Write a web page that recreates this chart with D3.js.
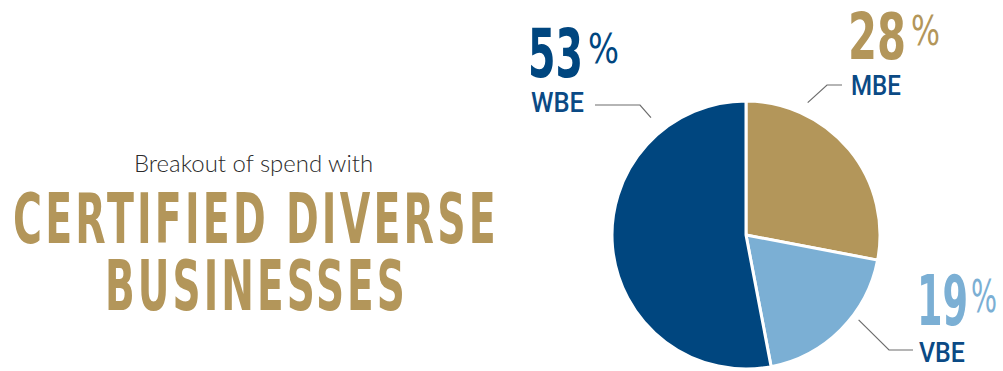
<!DOCTYPE html>
<html>
<head>
<meta charset="utf-8">
<script src="https://cdn.jsdelivr.net/npm/d3@7"></script>
<style>
  html, body { margin: 0; padding: 0; background: #fff; }
  svg { display: block; }
</style>
</head>
<body>
<div id="chart"></div>
<script>
// Spend breakout pie – certified diverse businesses

const categories = ['MBE', 'VBE', 'WBE'];
const values = [28, 19, 53];
const sliceColors = ['#b3965a', '#7bafd4', '#00467f'];

const width = 1003, height = 371;
const labelBlue = '#0b4a85';
const gold = '#b3965a';

const svg = d3.select('#chart').append('svg')
    .attr('width', width)
    .attr('height', height);

// Fit a text element: cap height from top to baseline, stretched to a target width
function fitText(g, str, opts) {
    const capRatio = opts.capRatio || 0.729;
    const size = (opts.baseline - opts.top) / capRatio;
    const t = g.append('text')
        .attr('font-family', opts.family)
        .attr('font-weight', opts.weight || 'normal')
        .attr('font-size', size + 'px')
        .attr('letter-spacing', (opts.spacing || 0) + 'px')
        .attr('fill', opts.color)
        .text(str);
    const box = t.node().getBBox();
    const sx = opts.width / box.width;
    t.attr('transform', `translate(${opts.x - box.x * sx},${opts.baseline}) scale(${sx},1)`);
    return t;
}

const condensed = '"Liberation Sans Narrow", "DejaVu Sans Condensed", sans-serif';

// Title block
const title = svg.append('g');
fitText(title, 'Breakout of spend with', {
    family: 'Lato, "Open Sans", sans-serif', weight: 300, color: '#2b2b2b',
    x: 134, width: 239, top: 155, baseline: 172
});
fitText(title, 'CERTIFIED DIVERSE', {
    family: condensed, weight: 'bold',
    color: gold, spacing: 5, x: 13, width: 486, top: 193, baseline: 243
});
fitText(title, 'BUSINESSES', {
    family: condensed, weight: 'bold',
    color: gold, spacing: 5, x: 105, width: 303, top: 259, baseline: 310
});

// Pie
const cx = 746, cy = 235, radius = 134;
const pie = d3.pie().sort(null).value(d => d);
const arcs = pie(values);
const arc = d3.arc().innerRadius(0).outerRadius(radius);

const pieG = svg.append('g').attr('transform', `translate(${cx},${cy})`);
pieG.selectAll('path')
    .data(arcs)
    .join('path')
    .attr('d', arc)
    .attr('fill', (d, i) => sliceColors[i])
    .attr('stroke', '#fff')
    .attr('stroke-width', 3)
    .attr('stroke-linejoin', 'round');

// Labels: big number, small %, category name, leader line
const labelLayout = [
    { numX: 848, numW: 58, pctX: 911, pctW: 29, numTop: 12, numBase: 59, pctTop: 16, pctBase: 45,
      labX: 851, labW: 50, labTop: 75, labBase: 95,
      angle: 25, dist: 146, elbow: [827, 85], end: [842, 85] },
    { numX: 917, numW: 51, pctX: 971, pctW: 26, numTop: 275, numBase: 325, pctTop: 280, pctBase: 312,
      labX: 919, labW: 46, labTop: 342, labBase: 362,
      angle: 127, dist: 141, elbow: [889, 350], end: [913, 350] },
    { numX: 528, numW: 55, pctX: 588, pctW: 31, numTop: 28, numBase: 77, pctTop: 33, pctBase: 63,
      labX: 531, labW: 53, labTop: 93, labBase: 112,
      angle: 321, dist: 151, elbow: [640, 105], end: [595, 105] }
];

const labelsG = svg.append('g');

categories.forEach((cat, i) => {
    const L = labelLayout[i];
    fitText(labelsG, String(values[i]), {
        family: condensed, weight: 'bold', color: sliceColors[i],
        x: L.numX, width: L.numW, top: L.numTop, baseline: L.numBase
    });
    fitText(labelsG, '%', {
        family: condensed, weight: 'normal', color: sliceColors[i],
        x: L.pctX, width: L.pctW, top: L.pctTop, baseline: L.pctBase, capRatio: 0.72
    });
    fitText(labelsG, cat, {
        family: 'Roboto, "Liberation Sans", sans-serif', weight: 500, color: labelBlue,
        x: L.labX, width: L.labW, top: L.labTop, baseline: L.labBase, capRatio: 0.711
    });

    const a = L.angle * Math.PI / 180;
    const start = [cx + Math.sin(a) * L.dist, cy - Math.cos(a) * L.dist];
    labelsG.append('path')
        .attr('d', d3.line()([start, L.elbow, L.end]))
        .attr('fill', 'none')
        .attr('stroke', '#6d6d6d')
        .attr('stroke-width', 1.2);
});
</script>
</body>
</html>
